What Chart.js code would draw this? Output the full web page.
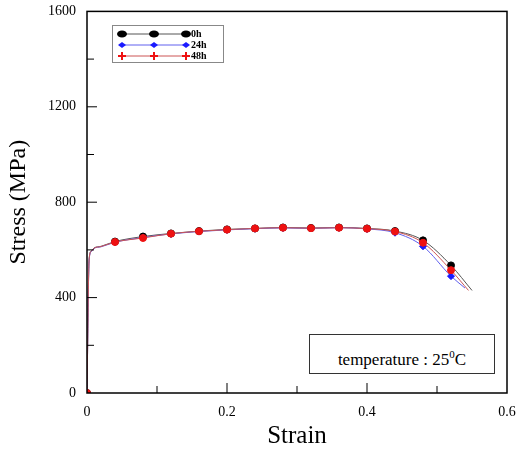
<!DOCTYPE html>
<html><head><meta charset="utf-8">
<script src="https://cdn.jsdelivr.net/npm/chart.js@4"></script>
<style>
body{margin:0;background:#fff;width:521px;height:455px;overflow:hidden;position:relative;font-family:"Liberation Serif",serif}
#wrap{position:absolute;left:0;top:0;width:521px;height:455px}
.leg{position:absolute;font-size:10px;left:191px;line-height:11px;font-weight:bold}
#temp{position:absolute;left:309px;top:334px;width:186px;height:40px;border:1px solid #333;box-sizing:border-box;font-size:17px;text-align:center;line-height:38px;background:#fff}
#legbox{position:absolute;left:112px;top:25px;width:112px;height:38px;border:1px solid #888;box-sizing:border-box}
</style></head><body>
<div id="wrap"><canvas id="c" width="521" height="455"></canvas></div>
<div id="legbox"></div>
<div class="leg" style="top:28px">0h</div>
<div class="leg" style="top:39px">24h</div>
<div class="leg" style="top:50px">48h</div>
<div id="temp">temperature : 25<sup style="font-size:11px">0</sup>C</div>
<script>
const strain = [0,0.003,0.006,0.01,0.02,0.04,0.08,0.12,0.16,0.2,0.24,0.28,0.32,0.36,0.4,0.44,0.48,0.52];
const stress0h = [0,560,595,608,615,635,656,669,679,686,690,694,692,694,690,679,640,535];
const stress24h = [0,555,592,606,613,632,652,667,677,684,689,692,690,693,688,672,615,490];
const stress48h = [0,558,594,607,614,633,650,668,678,685,690,693,691,693,689,677,630,515];
const endStrain = [0.55,0.54,0.545];
const endStress = [430,440,430];
const names = ['0h','24h','48h'];
const colors = ['#000000','#1a1aff','#ee1111'];
const lineColors = ['#555','#6060ee','#cc5555'];
const all = [stress0h,stress24h,stress48h];
const markerX = [0,0.04,0.08,0.12,0.16,0.2,0.24,0.28,0.32,0.36,0.4,0.44,0.48,0.52];

const datasets = all.map((s,i)=>({
  label:names[i], order:2-i,
  data: strain.map((x,j)=>({x,y:s[j]})).concat([{x:endStrain[i],y:endStress[i]}]),
  borderColor:lineColors[i], backgroundColor:colors[i], borderWidth:1,
  pointStyle: i==1?'rectRot':'circle',
  pointRadius: ctx=>{const p=ctx.raw; return p && markerX.some(m=>Math.abs(m-p.x)<1e-9)?3.5:0;},
  pointBorderColor:colors[i], tension:0.3, cubicInterpolationMode:'monotone'
}));

const frame = {id:'frame',afterDraw(ch){
  const {ctx,chartArea:a,scales:{x,y}}=ch;
  ctx.save();ctx.strokeStyle='#000';ctx.lineWidth=1.5;
  ctx.strokeRect(a.left,a.top,a.right-a.left,a.bottom-a.top);
  ctx.lineWidth=1;
  for(let v=0.1;v<0.6;v+=0.1){const px=x.getPixelForValue(v);const L=Math.round(v*10)%2?7:10;
    ctx.beginPath();ctx.moveTo(px,a.bottom);ctx.lineTo(px,a.bottom-L);ctx.stroke();}
  for(let v=200;v<1600;v+=200){const py=y.getPixelForValue(v);const L=(v%400)?7:10;
    ctx.beginPath();ctx.moveTo(a.left,py);ctx.lineTo(a.left+L,py);ctx.stroke();}
  const ys=[34,45,56];
  ys.forEach((yy,i)=>{ctx.strokeStyle=lineColors[i];ctx.lineWidth=1;ctx.beginPath();ctx.moveTo(120,yy);ctx.lineTo(186,yy);ctx.stroke();
    ctx.fillStyle=colors[i];ctx.strokeStyle=colors[i];ctx.lineWidth=2;
    [122,154,186].forEach(px=>{ctx.beginPath();
      if(i==0){ctx.ellipse(px,yy,5,3.5,0,0,7);ctx.fill();}
      else if(i==1){ctx.moveTo(px-4,yy);ctx.lineTo(px,yy-3);ctx.lineTo(px+4,yy);ctx.lineTo(px,yy+3);ctx.fill();}
      else{ctx.moveTo(px-4,yy);ctx.lineTo(px+4,yy);ctx.moveTo(px,yy-4);ctx.lineTo(px,yy+4);ctx.stroke();}
    });});
  ctx.restore();
}};

new Chart(document.getElementById('c'),{
  type:'line',
  data:{datasets},
  options:{responsive:false,animation:false,
    layout:{padding:{top:10,right:14,left:0,bottom:0}},
    plugins:{legend:{display:false},tooltip:{enabled:false}},
    scales:{
      x:{type:'linear',min:0,max:0.6,afterFit:s=>{s.height=62;},
        ticks:{stepSize:0.2,color:'#000',font:{family:'Liberation Serif',size:14},callback:v=>v===0?'0':v.toFixed(1)},
        grid:{display:false},border:{display:false},
        title:{display:true,text:'Strain',color:'#000',font:{family:'Liberation Serif',size:25},padding:{top:4}}},
      y:{min:0,max:1600,afterFit:s=>{s.width=87;},
        ticks:{stepSize:400,color:'#000',font:{family:'Liberation Serif',size:14},callback:v=>String(v)},
        grid:{display:false},border:{display:false},
        title:{display:true,text:'Stress (MPa)',color:'#000',font:{family:'Liberation Serif',size:24},padding:{bottom:4}}}
    }},
  plugins:[frame]
});
</script></body></html>
